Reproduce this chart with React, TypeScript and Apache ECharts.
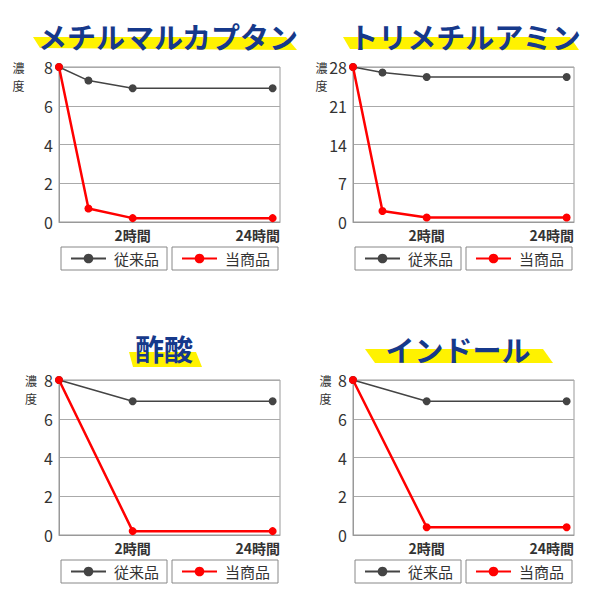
import { useEffect, useRef } from "react";
import * as echarts from "echarts";

// x positions (2時間 = 1, right edge of plot = 3)
const xTop = [0, 0.4, 1, 2.9];
const xBottom = [0, 1, 2.9];
const xLabelValues = [1, 3];
const xLabels = ["2時間", "24時間"];
const seriesNames = ["従来品", "当商品"];
const yName = ["濃", "度"];

const methylOld = [8, 7.3, 6.9, 6.9];
const methylNew = [8, 0.7, 0.2, 0.2];
const trimethylOld = [28, 27, 26.2, 26.2];
const trimethylNew = [28, 2, 0.8, 0.8];
const aceticOld = [8, 6.9, 6.9];
const aceticNew = [8, 0.2, 0.2];
const indoleOld = [8, 6.9, 6.9];
const indoleNew = [8, 0.4, 0.4];

const font = '"Noto Sans CJK JP", "Noto Sans", sans-serif';
const navy = "#16398b";
const yellow = "#fff200";
const grayLine = "#444444";
const red = "#ff0000";

interface PanelProps {
  title: string;
  xs: number[];
  oldVals: number[];
  newVals: number[];
  yMax: number;
  yStep: number;
  left: number;
  top: number;
  gridLeft: number;
  gridTop: number;
  titleX: number;
  titleY: number;
  band: number[][];
  nameX: number;
}

function Panel(p: PanelProps) {
  const ref = useRef<HTMLDivElement>(null);

  useEffect(() => {
    if (!ref.current) return;
    const chart = echarts.init(ref.current, undefined, { renderer: "svg" });

    const legendBase = {
      top: p.gridTop + 180,
      orient: "horizontal" as const,
      padding: [4, 8, 4, 9],
      borderColor: "#888",
      borderWidth: 1,
      backgroundColor: "#fff",
      itemWidth: 35,
      itemHeight: 12,
      selectedMode: false,
      textStyle: {
        fontSize: 15,
        lineHeight: 15,
        color: "#333",
        fontFamily: font,
        padding: [0, 0, 0, 3],
      },
    };

    chart.setOption({
      animation: false,
      grid: {
        left: p.gridLeft,
        top: p.gridTop,
        width: 221,
        height: 155,
        show: true,
        borderColor: "#999",
        borderWidth: 1,
      },
      xAxis: {
        type: "value",
        min: 0,
        max: 3,
        axisTick: { show: false },
        splitLine: { show: false },
        axisLine: { lineStyle: { color: "#999" } },
        axisLabel: {
          customValues: xLabelValues,
          formatter: (v: number) => xLabels[xLabelValues.indexOf(v)] ?? "",
          alignMaxLabel: "right",
          fontSize: 14,
          fontWeight: "bold",
          color: "#333",
          fontFamily: font,
          margin: 6,
        },
      },
      yAxis: {
        type: "value",
        min: 0,
        max: p.yMax,
        interval: p.yStep,
        axisTick: { show: false },
        axisLine: { show: true, lineStyle: { color: "#999" } },
        splitLine: { lineStyle: { color: "#aaa" } },
        axisLabel: {
          fontSize: 16,
          color: "#333",
          fontFamily: font,
          margin: 6,
        },
      },
      legend: [
        { ...legendBase, data: [seriesNames[0]], left: p.gridLeft + 2 },
        { ...legendBase, data: [seriesNames[1]], left: p.gridLeft + 113 },
      ],
      graphic: [
        {
          type: "polygon",
          z: 0,
          shape: { points: p.band },
          style: { fill: yellow },
        },
        {
          type: "text",
          z: 1,
          x: p.titleX,
          y: p.titleY,
          style: {
            text: p.title,
            fill: navy,
            fontSize: 29,
            fontWeight: "bold",
            fontFamily: font,
            align: "center",
            verticalAlign: "middle",
          },
        },
        ...yName.map((ch, i) => ({
          type: "text",
          x: p.nameX,
          y: p.gridTop + 0.5 + i * 17.5,
          style: {
            text: ch,
            fill: "#333",
            fontSize: 12,
            fontFamily: font,
            align: "center",
            verticalAlign: "middle",
          },
        })),
      ],
      series: [
        {
          name: seriesNames[0],
          type: "line",
          data: p.xs.map((x, i) => [x, p.oldVals[i]]),
          symbol: "circle",
          symbolSize: 8,
          itemStyle: { color: grayLine },
          lineStyle: { color: grayLine, width: 1.5 },
        },
        {
          name: seriesNames[1],
          type: "line",
          data: p.xs.map((x, i) => [x, p.newVals[i]]),
          symbol: "circle",
          symbolSize: 8,
          itemStyle: { color: red },
          lineStyle: { color: red, width: 2.5 },
        },
      ],
    });

    return () => chart.dispose();
  }, [p]);

  return (
    <div
      ref={ref}
      style={{
        position: "absolute",
        left: p.left,
        top: p.top,
        width: 300,
        height: 300,
      }}
    />
  );
}

const panels: PanelProps[] = [
  {
    title: "メチルマルカプタン",
    xs: xTop,
    oldVals: methylOld,
    newVals: methylNew,
    yMax: 8,
    yStep: 2,
    left: 0,
    top: 0,
    gridLeft: 59,
    gridTop: 67,
    titleX: 168,
    titleY: 36,
    band: [[33, 37], [286, 37], [297, 50], [40, 48]],
    nameX: 18.5,
  },
  {
    title: "トリメチルアミン",
    xs: xTop,
    oldVals: trimethylOld,
    newVals: trimethylNew,
    yMax: 28,
    yStep: 7,
    left: 300,
    top: 0,
    gridLeft: 53,
    gridTop: 67,
    titleX: 165,
    titleY: 36,
    band: [[43, 37], [270, 37], [279, 50], [50, 49]],
    nameX: 21.5,
  },
  {
    title: "酢酸",
    xs: xBottom,
    oldVals: aceticOld,
    newVals: aceticNew,
    yMax: 8,
    yStep: 2,
    left: 0,
    top: 300,
    gridLeft: 59,
    gridTop: 80,
    titleX: 164,
    titleY: 48,
    band: [[129, 52], [196, 52], [202, 67], [133, 67]],
    nameX: 31,
  },
  {
    title: "インドール",
    xs: xBottom,
    oldVals: indoleOld,
    newVals: indoleNew,
    yMax: 8,
    yStep: 2,
    left: 300,
    top: 300,
    gridLeft: 53,
    gridTop: 80,
    titleX: 158,
    titleY: 49,
    band: [[65, 49], [243, 49], [253, 63], [75, 63]],
    nameX: 25.5,
  },
];

export default function App() {
  return (
    <div
      style={{
        position: "fixed",
        left: 0,
        top: 0,
        width: 600,
        height: 600,
        background: "#fff",
      }}
    >
      {panels.map((p) => (
        <Panel key={p.title} {...p} />
      ))}
    </div>
  );
}
